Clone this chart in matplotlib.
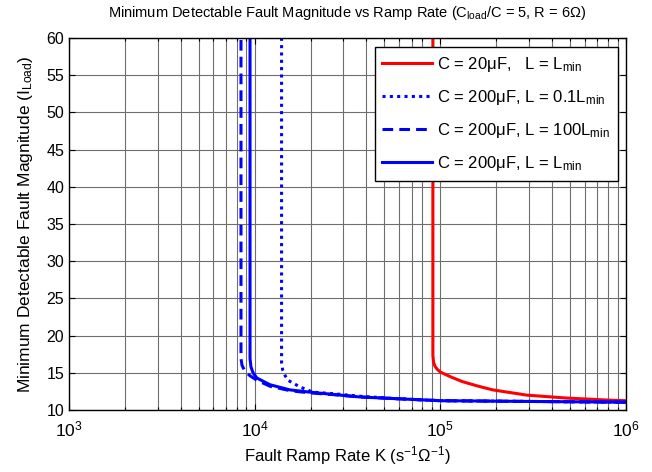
import matplotlib
matplotlib.use("Agg")
import matplotlib.pyplot as plt
from matplotlib.ticker import LogLocator, FixedLocator, NullFormatter, LogFormatterMathtext

plt.rcParams['font.family'] = ['Liberation Sans', 'DejaVu Sans']
plt.rcParams['mathtext.fontset'] = 'custom'
plt.rcParams['mathtext.rm'] = 'Liberation Sans'
plt.rcParams['mathtext.it'] = 'Liberation Sans:italic'
plt.rcParams['mathtext.bf'] = 'Liberation Sans:bold'
plt.rcParams['mathtext.default'] = 'rm'

# ---- data ----
red_K = [91200, 91200, 92000, 93500, 96000, 100000, 115000, 132000, 160000, 192000,
         292000, 481000, 851000, 1000000]
red_I = [62, 17.3, 16.4, 15.9, 15.5, 15.1, 14.4, 13.8, 13.2, 12.7, 12.0, 11.6, 11.3, 11.25]

sol_K = [9440, 9440, 9550, 9800, 10280, 12080, 15490, 19850, 28800, 36900, 60600,
         100000, 300000, 1000000]
sol_I = [62, 16.9, 15.8, 15.0, 14.3, 13.4, 12.7, 12.4, 12.0, 11.75, 11.5, 11.25, 11.15, 11.05]

dash_K = [8440, 8440, 8550, 8870, 9440, 10280, 12080, 15490, 19850, 28800, 36900,
          60600, 100000, 300000, 1000000]
dash_I = [62, 16.9, 16.0, 15.2, 14.6, 14.0, 13.2, 12.6, 12.3, 12.0, 11.75, 11.5, 11.25,
          11.15, 11.05]

dot_K = [13960, 13960, 14150, 14600, 15100, 17540, 20600, 26400, 36900, 60600, 100000,
         300000, 1000000]
dot_I = [62, 16.4, 15.4, 14.6, 14.0, 13.1, 12.4, 12.2, 11.85, 11.5, 11.25, 11.15, 11.05]

labels = [r'C = 20$\mu$F,   L = L$_{\mathrm{min}}$',
          r'C = 200$\mu$F, L = 0.1L$_{\mathrm{min}}$',
          r'C = 200$\mu$F, L = 100L$_{\mathrm{min}}$',
          r'C = 200$\mu$F, L = L$_{\mathrm{min}}$']
y_ticks = [10, 15, 20, 25, 30, 35, 40, 45, 50, 55, 60]

fig = plt.figure(figsize=(6.52, 4.72), dpi=100)
ax = fig.add_axes([69/652, 1-410/472, (626-69)/652, (410-38)/472])

ax.plot(red_K, red_I, color='#ff0000', lw=2.2, ls='-', label=labels[0])
ax.plot(dot_K, dot_I, color='#0000ff', lw=2.2, ls=(0, (1, 1.4)), label=labels[1])
ax.plot(dash_K, dash_I, color='#0000ff', lw=2.2, ls=(0, (3.5, 2)), label=labels[2])
ax.plot(sol_K, sol_I, color='#0000ff', lw=2.2, ls='-', label=labels[3])

ax.set_xscale('log')
ax.set_xlim(1e3, 1e6)
ax.set_ylim(10, 60)
ax.yaxis.set_major_locator(FixedLocator(y_ticks))
ax.xaxis.set_major_locator(LogLocator(base=10, numticks=10))
ax.xaxis.set_minor_locator(LogLocator(base=10, subs=range(2, 10), numticks=20))
ax.xaxis.set_minor_formatter(NullFormatter())
ax.xaxis.set_major_formatter(LogFormatterMathtext())

ax.grid(True, which='major', axis='both', color='#6e6e6e', lw=0.8)
ax.grid(True, which='minor', axis='x', color='#6e6e6e', lw=0.8)
ax.set_axisbelow(True)

ax.tick_params(which='both', direction='in', top=True, right=True, labelsize=11.5,
               color='black')
ax.tick_params(axis='x', labelsize=12.5, pad=7)
ax.tick_params(which='major', length=4, width=0.8)
ax.tick_params(which='minor', length=2.5, width=0.8)
for s in ax.spines.values():
    s.set_linewidth(1.0)

ax.set_title(r'Minimum Detectable Fault Magnitude vs Ramp Rate (C$_{\mathrm{load}}$/C = 5, R = 6$\Omega$)',
             fontsize=10.5, pad=15)
ax.set_xlabel(r'Fault Ramp Rate K (s$^{-1}\Omega^{-1}$)', fontsize=12, labelpad=3)
ax.set_ylabel(r'Minimum Detectable Fault Magnitude (I$_{\mathrm{Load}}$)', fontsize=12.5,
              labelpad=8)

leg = ax.legend(loc='upper right', fontsize=12, frameon=True, fancybox=False,
                edgecolor='black', framealpha=1, handlelength=3.0, handletextpad=0.3,
                labelspacing=0.85, borderpad=0.45, borderaxespad=0,
                bbox_to_anchor=(0.9856, 0.9758))
leg.get_frame().set_linewidth(1.0)

fig.savefig('out.png', dpi=100, facecolor='white')
